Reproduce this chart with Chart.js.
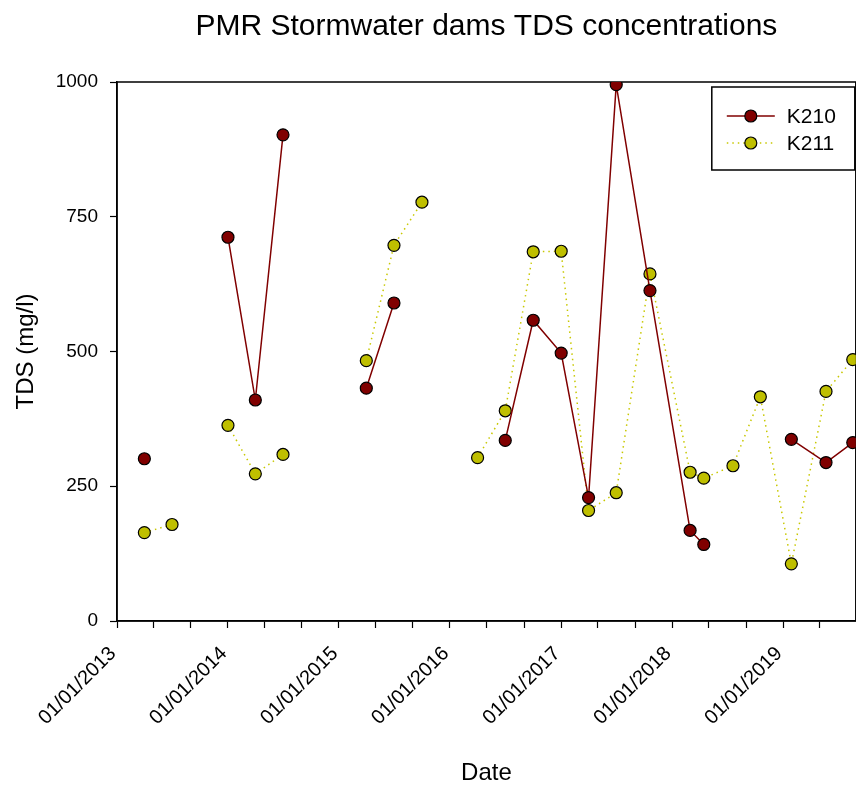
<!DOCTYPE html>
<html>
<head>
<meta charset="utf-8">
<script src="https://cdn.jsdelivr.net/npm/chart.js@4"></script>
<style>
  html, body { margin: 0; padding: 0; background: #fff; overflow: hidden; }
  canvas { display: block; }
</style>
</head>
<body>
<!-- slightly wider than the window: the right frame edge sits on the window edge, as in the source figure -->
<canvas id="chart" width="863" height="785"></canvas>
<script>
// sampling dates (rows with no values are missed sampling rounds)
const dates = ['2013-04-01', '2013-07-01', '2013-10-01', '2014-01-01', '2014-04-01', '2014-07-01',
  '2014-10-01', '2015-04-01', '2015-07-01', '2015-10-01', '2016-01-01', '2016-04-01', '2016-07-01',
  '2016-10-01', '2017-01-01', '2017-04-01', '2017-07-01', '2017-10-20', '2018-03-01', '2018-04-15',
  '2018-07-20', '2018-10-18', '2019-01-28', '2019-05-22', '2019-08-18'];

// TDS (mg/l)
const k210 = [301, null, null, 712, 410, 902, null, 432, 590, null, null, null, 335,
  558, 497, 229, 995, 613, 168, 142, null, null, 337, 294, 331];
const k211 = [164, 179, null, 363, 273, 309, null, 483, 697, 777, null, 303, 390,
  685, 686, 205, 238, 644, 276, 265, 288, 416, 106, 426, 485];

const yTicks = [0, 250, 500, 750, 1000];
const xStart = '2013-01-01';
const xEnd = '2019-08-28';

const FONT = "'Liberation Sans', Arial, sans-serif";

function toPoints(values) {
  return dates.map((d, i) => ({ x: Date.parse(d), y: values[i] }));
}

// title centred over the plot area, plot frame and boxed legend
const extras = {
  id: 'extras',
  beforeDatasetsDraw(chart) {
    const { ctx, chartArea: a } = chart;
    ctx.save();
    ctx.strokeStyle = '#000';
    ctx.lineWidth = 1.5;
    ctx.strokeRect(a.left, a.top, a.right - a.left, a.bottom - a.top);
    ctx.restore();
  },
  afterDraw(chart) {
    const { ctx, chartArea: a } = chart;
    ctx.save();
    ctx.fillStyle = '#000';
    ctx.font = '30px ' + FONT;
    ctx.textAlign = 'center';
    ctx.textBaseline = 'middle';
    ctx.fillText('PMR Stormwater dams TDS concentrations', (a.left + a.right) / 2, 27);

    // legend
    const bx = a.right - 144, by = a.top + 5, bw = 143, bh = 83;
    ctx.fillStyle = '#fff';
    ctx.fillRect(bx, by, bw, bh);
    ctx.strokeStyle = '#000';
    ctx.lineWidth = 1.5;
    ctx.strokeRect(bx, by, bw, bh);
    chart.data.datasets.forEach((ds, i) => {
      const y = by + 29 + i * 27;
      ctx.beginPath();
      ctx.setLineDash(ds.borderDash || []);
      ctx.strokeStyle = ds.borderColor;
      ctx.lineWidth = ds.borderWidth;
      ctx.moveTo(bx + 15, y);
      ctx.lineTo(bx + 63, y);
      ctx.stroke();
      ctx.setLineDash([]);
      ctx.beginPath();
      ctx.arc(bx + 39, y, ds.pointRadius, 0, Math.PI * 2);
      ctx.fillStyle = ds.pointBackgroundColor;
      ctx.fill();
      ctx.strokeStyle = '#000';
      ctx.lineWidth = ds.pointBorderWidth;
      ctx.stroke();
      ctx.fillStyle = '#000';
      ctx.font = '21px ' + FONT;
      ctx.textAlign = 'left';
      ctx.fillText(ds.label, bx + 75, y + 1);
    });
    ctx.restore();
  }
};

new Chart(document.getElementById('chart'), {
  type: 'line',
  data: {
    datasets: [{
      label: 'K210',
      data: toPoints(k210),
      borderColor: '#800000',
      borderWidth: 1.5,
      pointRadius: 6,
      pointBackgroundColor: '#800000',
      pointBorderColor: '#000',
      pointBorderWidth: 1.2,
      spanGaps: false
    }, {
      label: 'K211',
      data: toPoints(k211),
      borderColor: '#c8c800',
      borderWidth: 1.5,
      borderDash: [1.5, 4],
      pointRadius: 6,
      pointBackgroundColor: '#bfbf00',
      pointBorderColor: '#000',
      pointBorderWidth: 1.2,
      spanGaps: false
    }]
  },
  options: {
    responsive: false,
    animation: false,
    layout: { padding: { top: 82, right: 0, left: 0, bottom: 0 } },
    plugins: {
      legend: { display: false },
      tooltip: { enabled: false }
    },
    scales: {
      x: {
        type: 'linear',
        min: Date.parse(xStart),
        max: Date.parse(xEnd),
        afterBuildTicks(scale) {
          const ticks = [];
          for (let yr = 2013; yr <= 2019; yr++) {
            for (const m of [0, 4, 8]) {
              const v = Date.UTC(yr, m, 1);
              if (v <= scale.max) ticks.push({ value: v });
            }
          }
          scale.ticks = ticks;
        },
        afterFit(scale) {
          scale.height = 164;
          scale.paddingRight = 0;
          scale.paddingLeft = 0;
        },
        grid: { drawOnChartArea: false, tickLength: 7, color: '#000', tickWidth: 1.2 },
        border: { color: '#000', width: 1.5 },
        ticks: {
          autoSkip: false,
          maxRotation: 45,
          minRotation: 45,
          padding: 14,
          labelOffset: -4,
          color: '#000',
          font: { family: FONT, size: 20 },
          callback(value) {
            const d = new Date(value);
            return d.getUTCMonth() === 0 ? '01/01/' + d.getUTCFullYear() : '';
          }
        },
        title: {
          display: true,
          text: 'Date',
          color: '#000',
          font: { family: FONT, size: 24 },
          padding: { top: 0, bottom: -3 }
        }
      },
      y: {
        min: 0,
        max: 1000,
        afterBuildTicks(scale) { scale.ticks = yTicks.map(v => ({ value: v })); },
        afterFit(scale) {
          scale.width = 117;
          scale.paddingTop = 0;
          scale.paddingBottom = 0;
        },
        grid: { drawOnChartArea: false, tickLength: 7, color: '#000', tickWidth: 1.2 },
        border: { color: '#000', width: 1.5 },
        ticks: {
          padding: 12,
          color: '#000',
          font: { family: FONT, size: 19 },
          callback: value => String(value)
        },
        title: {
          display: true,
          text: 'TDS (mg/l)',
          color: '#000',
          font: { family: FONT, size: 24 },
          padding: { top: 12, bottom: 0 }
        }
      }
    }
  },
  plugins: [extras]
});
</script>
</body>
</html>
